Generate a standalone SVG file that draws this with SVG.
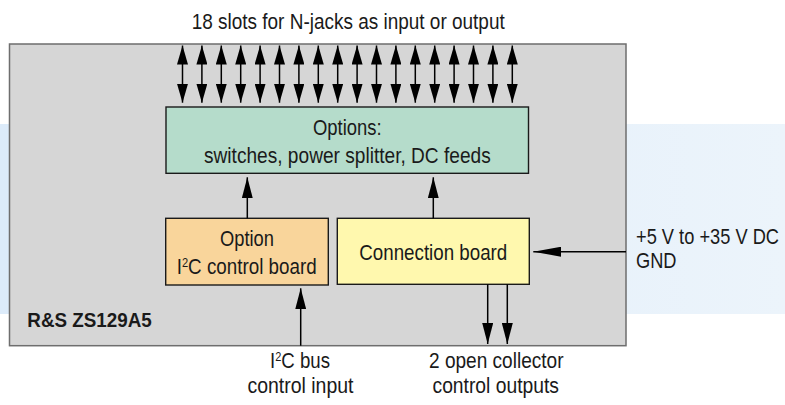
<svg xmlns="http://www.w3.org/2000/svg" width="785" height="405" viewBox="0 0 785 405">
<defs>
<linearGradient id="band" x1="0" y1="0" x2="1" y2="0">
<stop offset="0" stop-color="#dcebfa"/>
<stop offset="1" stop-color="#ecf4fb"/>
</linearGradient>
<marker id="ah" markerUnits="userSpaceOnUse" markerWidth="21" markerHeight="11" refX="21" refY="5.5" orient="auto-start-reverse" viewBox="0 0 21 11">
<path d="M0,0 L21,5.5 L0,11 z" fill="#000"/>
</marker>
<marker id="ahs" markerUnits="userSpaceOnUse" markerWidth="19" markerHeight="11" refX="19" refY="5.5" orient="auto-start-reverse" viewBox="0 0 19 11">
<path d="M0,0 L19,5.5 L0,11 z" fill="#000"/>
</marker>
<marker id="ahl" markerUnits="userSpaceOnUse" markerWidth="28" markerHeight="10" refX="28" refY="5" orient="auto" viewBox="0 0 28 10">
<path d="M0,0 L28,5 L0,10 z" fill="#000"/>
</marker>
</defs>
<style>
text{font-family:"Liberation Sans",Arial,sans-serif;font-size:22px;fill:#1a1a1a}
.box{stroke:#1a1a1a;stroke-width:1.4}
.ln{stroke:#000;stroke-width:1.5;fill:none}
.slot{stroke:#000;stroke-width:1.5;marker-start:url(#ahs);marker-end:url(#ahs)}
.sup{font-size:13px}
</style>
<rect x="0" y="124" width="785" height="190" fill="url(#band)"/>
<g id="device">
<rect x="9.5" y="44" width="616.5" height="301.7" fill="#d6d6d6" stroke="#6e6e6e" stroke-width="1.5"/>
<text x="27.3" y="327.3" font-weight="bold" style="font-size:19.5px" textLength="124.4" lengthAdjust="spacingAndGlyphs">R&amp;S ZS129A5</text>
</g>
<g id="title">
<text x="191.7" y="28.5" textLength="313" lengthAdjust="spacingAndGlyphs">18 slots for N-jacks as input or output</text>
</g>
<g id="options">
<rect class="box" x="166" y="107" width="362.5" height="66.3" fill="#b5dccb"/>
<text x="313" y="135" textLength="68.7" lengthAdjust="spacingAndGlyphs">Options:</text>
<text x="204" y="163.3" textLength="286.7" lengthAdjust="spacingAndGlyphs">switches, power splitter, DC feeds</text>
</g>
<g id="i2c-board">
<rect class="box" x="165.7" y="218.3" width="162.6" height="66.7" fill="#f9d59b"/>
<text x="220" y="245.7" textLength="54" lengthAdjust="spacingAndGlyphs">Option</text>
<text x="176.7" y="274" textLength="140" lengthAdjust="spacingAndGlyphs">I<tspan class="sup" dy="-7">2</tspan><tspan dy="7">C control board</tspan></text>
</g>
<g id="connection-board">
<rect class="box" x="337.3" y="218.3" width="192" height="66" fill="#fff8ae"/>
<text x="359.3" y="260" textLength="148" lengthAdjust="spacingAndGlyphs">Connection board</text>
</g>
<g id="power">
<text transform="translate(636,244) scale(0.83,1)">+5 V to +35 V DC</text>
<text transform="translate(636,268) scale(0.83,1)">GND</text>
</g>
<g id="i2c-bus">
<text x="270" y="368.3" textLength="60" lengthAdjust="spacingAndGlyphs">I<tspan class="sup" dy="-7">2</tspan><tspan dy="7">C bus</tspan></text>
<text x="247.5" y="393" textLength="106" lengthAdjust="spacingAndGlyphs">control input</text>
</g>
<g id="oc-outputs">
<text x="429" y="368.3" textLength="134.5" lengthAdjust="spacingAndGlyphs">2 open collector</text>
<text x="432.5" y="393" textLength="126.5" lengthAdjust="spacingAndGlyphs">control outputs</text>
</g>
<g id="connectors">
<line class="slot" x1="182.5" y1="45.5" x2="182.5" y2="102.7"/>
<line class="slot" x1="201.9" y1="45.5" x2="201.9" y2="102.7"/>
<line class="slot" x1="221.3" y1="45.5" x2="221.3" y2="102.7"/>
<line class="slot" x1="240.7" y1="45.5" x2="240.7" y2="102.7"/>
<line class="slot" x1="260.1" y1="45.5" x2="260.1" y2="102.7"/>
<line class="slot" x1="279.5" y1="45.5" x2="279.5" y2="102.7"/>
<line class="slot" x1="298.9" y1="45.5" x2="298.9" y2="102.7"/>
<line class="slot" x1="318.3" y1="45.5" x2="318.3" y2="102.7"/>
<line class="slot" x1="337.7" y1="45.5" x2="337.7" y2="102.7"/>
<line class="slot" x1="357.1" y1="45.5" x2="357.1" y2="102.7"/>
<line class="slot" x1="376.5" y1="45.5" x2="376.5" y2="102.7"/>
<line class="slot" x1="395.9" y1="45.5" x2="395.9" y2="102.7"/>
<line class="slot" x1="415.3" y1="45.5" x2="415.3" y2="102.7"/>
<line class="slot" x1="434.7" y1="45.5" x2="434.7" y2="102.7"/>
<line class="slot" x1="454.1" y1="45.5" x2="454.1" y2="102.7"/>
<line class="slot" x1="473.5" y1="45.5" x2="473.5" y2="102.7"/>
<line class="slot" x1="492.9" y1="45.5" x2="492.9" y2="102.7"/>
<line class="slot" x1="512.3" y1="45.5" x2="512.3" y2="102.7"/>
<line class="ln" x1="247.3" y1="218.3" x2="247.3" y2="177.3" marker-end="url(#ah)"/>
<line class="ln" x1="433.3" y1="218.3" x2="433.3" y2="177.3" marker-end="url(#ah)"/>
<line class="ln" x1="626" y1="251.7" x2="533.3" y2="251.7" marker-end="url(#ahl)"/>
<line class="ln" x1="487.7" y1="284.3" x2="487.7" y2="344" marker-end="url(#ah)"/>
<line class="ln" x1="507.3" y1="284.3" x2="507.3" y2="344" marker-end="url(#ah)"/>
<line class="ln" x1="300.7" y1="345.7" x2="300.7" y2="288.3" marker-end="url(#ah)"/>
</g>
</svg>
